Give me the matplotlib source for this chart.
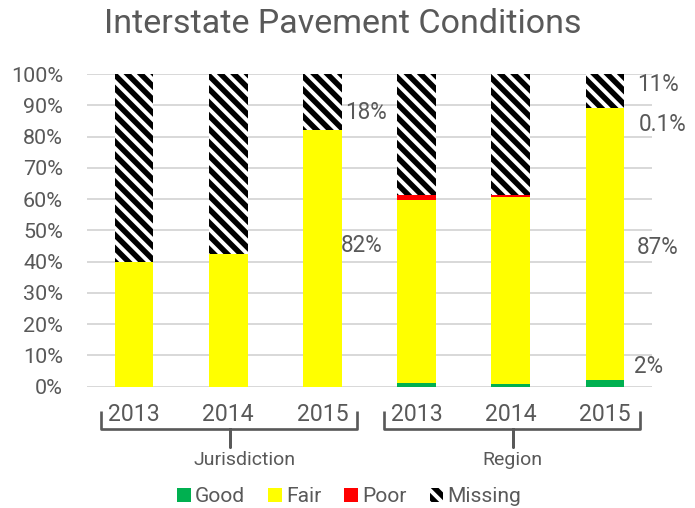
import matplotlib
matplotlib.use("Agg")
import matplotlib.pyplot as plt
import matplotlib.transforms as mtransforms
from matplotlib.patches import Patch, PathPatch
from matplotlib.path import Path
import numpy as np

DPI = 120
def px(v):
    # pixel size -> points at this dpi
    return v * 72.0 / DPI

plt.rcParams["font.family"] = ["Roboto", "DejaVu Sans"]
plt.rcParams["hatch.linewidth"] = px(5.5)
plt.rcParams["hatch.color"] = "black"

years = ["2013", "2014", "2015", "2013", "2014", "2015"]
groups = ["Jurisdiction", "Region"]
good = [0.0, 0.0, 0.0, 1.2, 0.9, 2.0]
fair = [40.0, 42.5, 82.0, 58.4, 59.8, 87.0]
poor = [0.0, 0.0, 0.0, 1.6, 0.5, 0.1]
missing = [60.0, 57.5, 18.0, 38.8, 38.8, 10.9]

TEXT = "#595959"
GREEN = "#00B050"
YELLOW = "#FFFF00"
RED = "#FF0000"
HATCH = "\\\\\\"

fig = plt.figure(figsize=(695 / DPI, 508 / DPI), dpi=DPI)
ax = fig.add_axes([87 / 695, 1 - 386.7 / 508, 565 / 695, 312.7 / 508])

x = np.arange(len(years))
w = 0.41
b = np.zeros(len(years))
ax.bar(x, good, w, bottom=b, color=GREEN, zorder=3)
b += good
ax.bar(x, fair, w, bottom=b, color=YELLOW, zorder=3)
b += fair
ax.bar(x, poor, w, bottom=b, color=RED, zorder=3)
b += poor
ax.bar(x, missing, w, bottom=b, color="white", edgecolor="black",
       hatch=HATCH, linewidth=0, zorder=3)

ax.set_xlim(-0.5, len(years) - 0.5)
ax.set_ylim(0, 100)
ax.set_yticks(np.arange(0, 101, 10))
ax.set_yticklabels([f"{v}%" for v in range(0, 101, 10)])
ax.grid(axis="y", color="#D9D9D9", linewidth=1.2, zorder=0)
for s in ax.spines.values():
    s.set_visible(False)
ax.tick_params(axis="y", length=0, labelsize=px(21.5), labelcolor=TEXT, pad=px(24))
ax.set_xticks([])

trans = mtransforms.blended_transform_factory(ax.transData, ax.transAxes)
for i, yr in enumerate(years):
    ax.text(i, -0.09, yr, transform=trans, ha="center", va="center",
            fontsize=px(23), color=TEXT)

# group brackets
for gi, name in enumerate(groups):
    x0 = gi * 3 - 0.35
    x1 = gi * 3 + 2 + 0.37
    xc = gi * 3 + 1.02
    yt, yh, yb = -0.078, -0.135, -0.193
    verts = [(x0, yt), (x0, yh), (xc, yh), (xc, yb), (xc, yh), (x1, yh), (x1, yt)]
    codes = [Path.MOVETO] + [Path.LINETO] * 6
    ax.add_patch(PathPatch(Path(verts, codes), transform=trans, fill=False,
                           edgecolor=TEXT, linewidth=1.6, clip_on=False,
                           joinstyle="round", capstyle="butt"))
    ax.text(xc + (0.15 if gi == 0 else 0.0), -0.235, name, transform=trans,
            ha="center", va="center", fontsize=px(19.5), color=TEXT)

# data labels beside the last bar of each group
lbl = dict(fontsize=px(22.5), color=TEXT, ha="left", va="center")
ax.text(2.24, 87.8, f"{missing[2]:.0f}%", **lbl)
ax.text(2.19, 45.3, f"{fair[2]:.0f}%", **lbl)
ax.text(5.34, 96.5, f"{missing[5]:.0f}%", **lbl)
ax.text(5.36, 83.7, f"{poor[5]:.1f}%", **lbl)
ax.text(5.34, 44.4, f"{fair[5]:.0f}%", **lbl)
ax.text(5.31, 6.6, f"{good[5]:.0f}%", **lbl)

fig.text(343 / 695, 1 - 24 / 508, "Interstate Pavement Conditions", ha="center",
         va="center", fontsize=px(34), color=TEXT)

handles = [Patch(facecolor=GREEN), Patch(facecolor=YELLOW), Patch(facecolor=RED),
           Patch(facecolor="white", edgecolor="black", hatch=HATCH, linewidth=0)]
fig.legend(handles, ["Good", "Fair", "Poor", "Missing"], loc="center",
           bbox_to_anchor=(349 / 695, 1 - 497 / 508), ncol=4, frameon=False,
           fontsize=px(21), labelcolor=TEXT, handlelength=0.65, handleheight=0.65,
           handletextpad=0.2, columnspacing=1.1)

fig.savefig("out.png", dpi=DPI, facecolor="white")
